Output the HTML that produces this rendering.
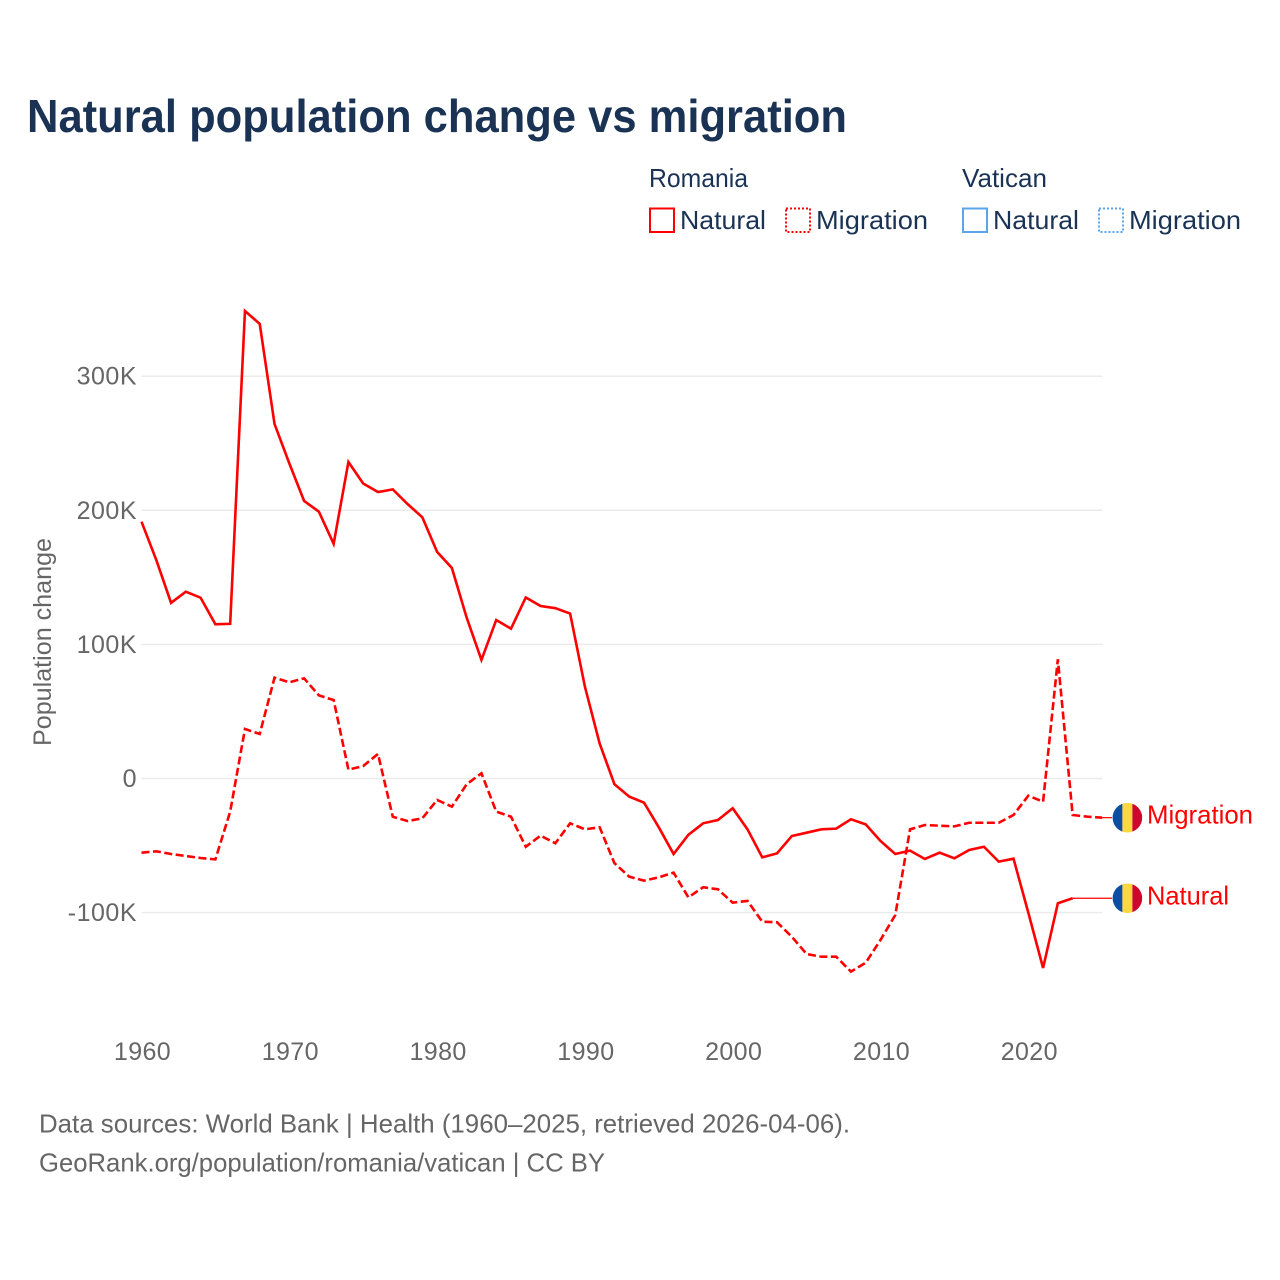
<!DOCTYPE html>
<html lang="en">
<head>
<meta charset="utf-8">
<title>Natural population change vs migration</title>
<style>
html,body{margin:0;padding:0;background:#fff;}
svg{display:block;font-family:"Liberation Sans",sans-serif;}
</style>
</head>
<body>
<svg id="chart" xmlns="http://www.w3.org/2000/svg" width="1280" height="1280" viewBox="0 0 1280 1280">
  <rect x="0" y="0" width="1280" height="1280" fill="#ffffff"/>
  <text x="27" y="132" font-size="46" font-weight="700" fill="#1a3355" textLength="820" lengthAdjust="spacingAndGlyphs">Natural population change vs migration</text>

  <g font-size="26" fill="#1a3355">
    <text x="649" y="187" textLength="99" lengthAdjust="spacingAndGlyphs">Romania</text>
    <text x="962" y="187" textLength="85" lengthAdjust="spacingAndGlyphs">Vatican</text>
    <rect x="650" y="208.5" width="24" height="23.5" fill="none" stroke="#ff0000" stroke-width="2"/>
    <text x="680" y="229" textLength="86" lengthAdjust="spacingAndGlyphs">Natural</text>
    <rect x="786" y="208.5" width="24" height="23.5" fill="none" stroke="#ff0000" stroke-width="2" stroke-dasharray="2,2"/>
    <text x="816" y="229" textLength="112" lengthAdjust="spacingAndGlyphs">Migration</text>
    <rect x="963" y="208.5" width="24" height="23.5" fill="none" stroke="#5ca5ec" stroke-width="2"/>
    <text x="993" y="229" textLength="86" lengthAdjust="spacingAndGlyphs">Natural</text>
    <rect x="1099" y="208.5" width="24" height="23.5" fill="none" stroke="#5ca5ec" stroke-width="2" stroke-dasharray="2,2"/>
    <text x="1129" y="229" textLength="112" lengthAdjust="spacingAndGlyphs">Migration</text>
  </g>

  <g id="grid"></g>
  <g id="y-ticks"></g>
  <g id="x-ticks"></g>
  <text transform="translate(51,642) rotate(-90)" text-anchor="middle" font-size="25" fill="#666666" textLength="208" lengthAdjust="spacingAndGlyphs">Population change</text>
  <g id="series"></g>

  <g font-size="26" fill="#666666">
    <text x="39" y="1132.5" textLength="811" lengthAdjust="spacingAndGlyphs">Data sources: World Bank | Health (1960–2025, retrieved 2026-04-06).</text>
    <text x="39" y="1171.5" textLength="566" lengthAdjust="spacingAndGlyphs">GeoRank.org/population/romania/vatican | CC BY</text>
  </g>
</svg>
<script>
const yearsAll = [1960,1961,1962,1963,1964,1965,1966,1967,1968,1969,1970,1971,1972,1973,1974,1975,1976,1977,1978,1979,1980,1981,1982,1983,1984,1985,1986,1987,1988,1989,1990,1991,1992,1993,1994,1995,1996,1997,1998,1999,2000,2001,2002,2003,2004,2005,2006,2007,2008,2009,2010,2011,2012,2013,2014,2015,2016,2017,2018,2019,2020,2021,2022,2023,2024,2025];
const naturalValues = [191500,163000,131000,139300,134800,115000,115400,348600,339000,264400,235000,207000,199000,175000,236000,220000,213600,215600,204700,194800,169000,157000,120000,88400,118200,111700,135000,128600,127000,123000,68500,26000,-4300,-13500,-18000,-36400,-56300,-42000,-33400,-31000,-22200,-37900,-58800,-55800,-42900,-40400,-37900,-37400,-30400,-34200,-46600,-56300,-53800,-60000,-55300,-59500,-53300,-50900,-62000,-59800,-100000,-141300,-93000,-89300];
const migrationValues = [-55300,-54300,-56300,-57800,-59300,-60300,-24700,36900,33200,75200,71700,74700,62000,58500,6600,9300,18300,-28500,-31700,-29700,-16000,-21000,-4300,3900,-24700,-28500,-50900,-42600,-48300,-33400,-37900,-36400,-63200,-73200,-76200,-73700,-70200,-88600,-81100,-82600,-92600,-91300,-106800,-107200,-118000,-130900,-132900,-132900,-144000,-137400,-120400,-101800,-37900,-34700,-35200,-35700,-33000,-33000,-33000,-27200,-12800,-17300,88900,-27200,-28500,-29200];
const yTickValues = [300000,200000,100000,0,-100000];
const yTickLabels = ["300K","200K","100K","0","-100K"];
const xTickValues = [1960,1970,1980,1990,2000,2010,2020];
const xTickLabels = ["1960","1970","1980","1990","2000","2010","2020"];

const NS = 'http://www.w3.org/2000/svg';
function xScale(year) { return 141.5 + (year - 1960) * 14.78; }
function yScale(value) { return 778.5 - value * 134.1 / 100000; }
function make(tag, attrs, parent) {
  const el = document.createElementNS(NS, tag);
  for (const k in attrs) el.setAttribute(k, attrs[k]);
  parent.appendChild(el);
  return el;
}
const gridLayer = document.getElementById('grid');
const yLayer = document.getElementById('y-ticks');
const xLayer = document.getElementById('x-ticks');
const seriesLayer = document.getElementById('series');

yTickValues.forEach(function (v, i) {
  const line = make('line', {x1: 141.5, x2: 1102.5, y1: yScale(v), y2: yScale(v), stroke: '#ebebeb', 'stroke-width': 1.5}, gridLayer);
  
  
  const label = make('text', {x: 137, y: yScale(v) + 8.5, 'text-anchor': 'end', 'font-size': 25, 'letter-spacing': 0.5, fill: '#666666'}, yLayer);
  
  
  label.textContent = yTickLabels[i];
});

xTickValues.forEach(function (v, i) {
  const label = make('text', {x: xScale(v) + 1, y: 1060, 'text-anchor': 'middle', 'font-size': 25, 'letter-spacing': 0.4, fill: '#666666'}, xLayer);
  
  
  label.textContent = xTickLabels[i];
});

function linePath(values) {
  return values.map(function (v, i) {
    return (i ? 'L' : 'M') + xScale(yearsAll[i]).toFixed(2) + ' ' + yScale(v).toFixed(2);
  }).join(' ');
}

function drawFlag(cx, cy, id) {
  const clip = make('clipPath', {id: id}, seriesLayer);
  make('circle', {cx: cx, cy: cy, r: 14.8}, clip);
  const flag = make('g', {'clip-path': 'url(#' + id + ')'}, seriesLayer);
  
  
  make('rect', {x: cx - 15, y: cy - 15, width: 10, height: 30, fill: '#0b4ea2'}, flag);
  make('rect', {x: cx - 5, y: cy - 15, width: 10, height: 30, fill: '#fdd640'}, flag);
  make('rect', {x: cx + 5, y: cy - 15, width: 10, height: 30, fill: '#d0052b'}, flag);
}

function drawSeries(values, dash, labelText, nameKey) {
  const attrs = {d: linePath(values), fill: 'none', stroke: '#ff0000', 'stroke-width': 2.6, 'stroke-linejoin': 'miter'};
  if (dash) attrs['stroke-dasharray'] = dash;
  const path = make('path', attrs, seriesLayer);
  
  
  const lastIndex = values.length - 1;
  const lx = xScale(yearsAll[lastIndex]);
  const ly = yScale(values[lastIndex]);
  const conn = make('line', {x1: lx, y1: ly, x2: 1112, y2: ly, stroke: '#ff0000', 'stroke-width': 1.2}, seriesLayer);
  
  
  drawFlag(1127.4, ly, nameKey + '-clip');
  const label = make('text', {x: 1147, y: ly + 6, 'font-size': 26, fill: '#ff0000', textLength: labelText === 'Migration' ? 106 : 82, lengthAdjust: 'spacingAndGlyphs'}, seriesLayer);
  
  
  label.textContent = labelText;
}

drawSeries(naturalValues, null, 'Natural', 'romania-natural');
drawSeries(migrationValues, '8,3.5', 'Migration', 'romania-migration');
</script>
</body>
</html>
